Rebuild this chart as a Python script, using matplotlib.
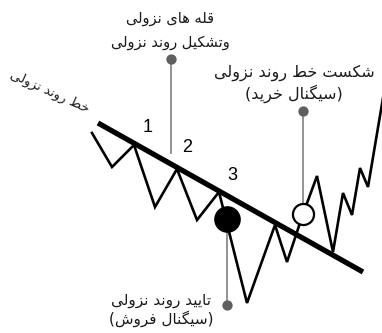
import matplotlib
matplotlib.use("Agg")
import matplotlib.pyplot as plt

# ---------------- data (pixel-space, y downward) ----------------
zig_x = [92, 112, 134, 155, 177, 197, 219, 247, 275, 287, 303, 317, 333, 343, 352, 360, 368, 384]
zig_y = [133, 167, 145, 207, 169, 220, 192, 303, 225, 262, 214, 176, 252, 193, 215, 168, 187, 92]
trend_x = [98, 363]
trend_y = [123, 272]
peak_labels = ["1", "2", "3"]
peak_lx = [148, 187, 232]
peak_ly = [128, 148, 175]

text_top = ["قله های نزولی", "وتشکیل روند نزولی"]
text_break = ["شکست خط روند نزولی", "(سیگنال خرید)"]
text_confirm = ["تایید روند نزولی", "(سیگنال فروش)"]
text_trend = "خط روند نزولی"

# ---------------- simple Arabic/Persian shaping ----------------
FORMS = {  # isolated, final, initial, medial
    'ا': ('\uFE8D', '\uFE8E', None, None),
    'ت': ('\uFE95', '\uFE96', '\uFE97', '\uFE98'),
    'خ': ('\uFEA5', '\uFEA6', '\uFEA7', '\uFEA8'),
    'د': ('\uFEA9', '\uFEAA', None, None),
    'ر': ('\uFEAD', '\uFEAE', None, None),
    'ز': ('\uFEAF', '\uFEB0', None, None),
    'س': ('\uFEB1', '\uFEB2', '\uFEB3', '\uFEB4'),
    'ش': ('\uFEB5', '\uFEB6', '\uFEB7', '\uFEB8'),
    'ط': ('\uFEC1', '\uFEC2', '\uFEC3', '\uFEC4'),
    'ف': ('\uFED1', '\uFED2', '\uFED3', '\uFED4'),
    'ق': ('\uFED5', '\uFED6', '\uFED7', '\uFED8'),
    'ل': ('\uFEDD', '\uFEDE', '\uFEDF', '\uFEE0'),
    'ن': ('\uFEE5', '\uFEE6', '\uFEE7', '\uFEE8'),
    'ه': ('\uFEE9', '\uFEEA', '\uFEEB', '\uFEEC'),
    'و': ('\uFEED', '\uFEEE', None, None),
    'ک': ('\uFB8E', '\uFB8F', '\uFB90', '\uFB91'),
    'گ': ('\uFB92', '\uFB93', '\uFB94', '\uFB95'),
    'ی': ('\uFBFC', '\uFBFD', '\uFBFE', '\uFBFF'),
}


def dual(c):
    return c in FORMS and FORMS[c][2] is not None


def shape(s):
    out = []
    n = len(s)
    for i, c in enumerate(s):
        if c not in FORMS:
            out.append(c)
            continue
        prev = s[i - 1] if i > 0 else ''
        nxt = s[i + 1] if i + 1 < n else ''
        jp = dual(prev)
        jn = dual(c) and nxt in FORMS
        iso, fin, ini, med = FORMS[c]
        if jp and jn:
            out.append(med)
        elif jp:
            out.append(fin)
        elif jn:
            out.append(ini)
        else:
            out.append(iso)
    vis = ''.join(reversed(out))
    return vis.translate(str.maketrans({'(': ')', ')': '('}))


plt.rcParams['font.family'] = ['DejaVu Sans']

fig = plt.figure(figsize=(3.82, 3.33), dpi=100)
ax = fig.add_axes([0, 0, 1, 1])
ax.set_xlim(0, 382)
ax.set_ylim(333, 0)
ax.axis('off')

gray_line = '#8a8a8a'
gray_dot = '#5f5f5f'
txt_col = '#1a1a1a'

# leader lines
ax.plot([171, 171], [59, 153], color=gray_line, lw=1.3, zorder=1)
ax.plot([303, 303], [111, 214], color=gray_line, lw=1.3, zorder=1)
ax.plot([227, 227], [220, 305], color=gray_line, lw=1.3, zorder=1)
ax.scatter([171, 303, 227], [59, 111, 305], s=55, color=gray_dot, zorder=3, linewidths=0)

# zigzag price
ax.plot(zig_x, zig_y, color='black', lw=1.9, solid_joinstyle='miter', zorder=2)
# trend line
ax.plot(trend_x, trend_y, color='black', lw=3.8, solid_capstyle='butt', zorder=2)

# signal points
ax.scatter([227], [219], s=330, color='black', zorder=4)
ax.scatter([303], [214], s=230, facecolor='white', edgecolor='black', linewidths=1.6, zorder=4)

for lab, lx, ly in zip(peak_labels, peak_lx, peak_ly):
    ax.text(lx, ly, lab, fontsize=13, family='Liberation Sans', ha='center', va='center')

for i, t in enumerate(text_top):
    ax.text(170, 18 + 25 * i, shape(t), fontsize=10.5, ha='center', va='center', color=txt_col)
for i, t in enumerate(text_break):
    ax.text(294, 73 + 21 * i, shape(t), fontsize=11.5, ha='center', va='center', color=txt_col)
for i, t in enumerate(text_confirm):
    ax.text(161, 300 + 19 * i, shape(t), fontsize=11, ha='center', va='center', color=txt_col)
ax.text(50, 92, shape(text_trend), fontsize=9.5, rotation=-24.5, ha='center', va='center',
        rotation_mode='anchor', color=txt_col)

fig.savefig('out.png', dpi=100)
